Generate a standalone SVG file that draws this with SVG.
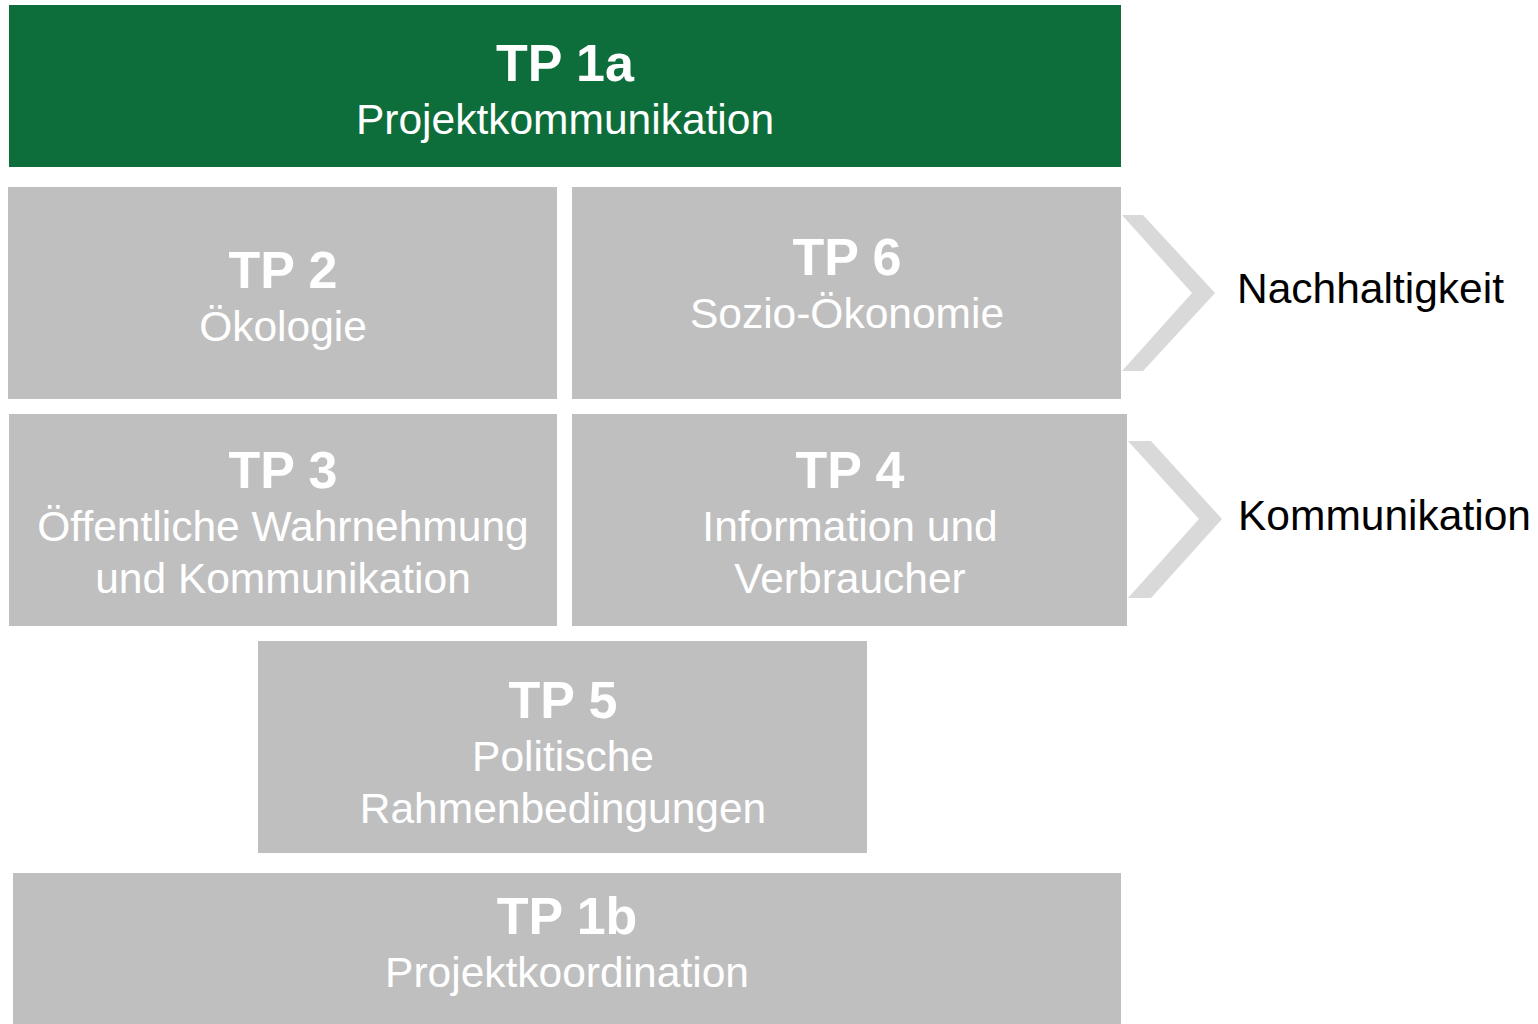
<svg xmlns="http://www.w3.org/2000/svg" width="1538" height="1024" viewBox="0 0 1538 1024">
<style>
.box{fill:#bfbfbf}
.green{fill:#0d6e3b}
.chev{fill:#d9d9d9}
text{font-family:"Liberation Sans",Arial,sans-serif;text-anchor:middle;fill:#ffffff}
.t{font-weight:bold;font-size:52px}
.s{font-size:42.5px}
.side{fill:#000000;text-anchor:start;font-size:42.5px}
</style>
<rect width="1538" height="1024" fill="#ffffff"/>
<g id="connectors">
<polygon class="chev" points="1122,215 1143,215 1215,293 1143,371 1122,371 1192,293"/>
<polygon class="chev" points="1128,441 1151,441 1222,519 1151,598 1128,598 1199,519"/>
</g>
<g id="tp1a">
<rect class="green" x="9" y="5" width="1112" height="162"/>
<text class="t" x="565" y="81">TP 1a</text>
<text class="s" x="565" y="134">Projektkommunikation</text>
</g>
<g id="tp2">
<rect class="box" x="8" y="187" width="549" height="212"/>
<text class="t" x="283" y="288">TP 2</text>
<text class="s" x="283" y="341">Ökologie</text>
</g>
<g id="tp6">
<rect class="box" x="572" y="187" width="549" height="212"/>
<text class="t" x="847" y="275">TP 6</text>
<text class="s" x="847" y="328">Sozio-Ökonomie</text>
</g>
<g id="tp3">
<rect class="box" x="9" y="414" width="548" height="212"/>
<text class="t" x="283" y="488">TP 3</text>
<text class="s" x="283" y="541">Öffentliche Wahrnehmung</text>
<text class="s" x="283" y="593">und Kommunikation</text>
</g>
<g id="tp4">
<rect class="box" x="572" y="414" width="555" height="212"/>
<text class="t" x="850" y="488">TP 4</text>
<text class="s" x="850" y="541">Information und</text>
<text class="s" x="850" y="593">Verbraucher</text>
</g>
<g id="tp5">
<rect class="box" x="258" y="641" width="609" height="212"/>
<text class="t" x="563" y="718">TP 5</text>
<text class="s" x="563" y="771">Politische</text>
<text class="s" x="563" y="823">Rahmenbedingungen</text>
</g>
<g id="tp1b">
<rect class="box" x="13" y="873" width="1108" height="151"/>
<text class="t" x="567" y="934">TP 1b</text>
<text class="s" x="567" y="987">Projektkoordination</text>
</g>
<g id="label-nachhaltigkeit">
<text class="side" x="1237" y="303">Nachhaltigkeit</text>
</g>
<g id="label-kommunikation">
<text class="side" x="1238" y="530">Kommunikation</text>
</g>
</svg>
